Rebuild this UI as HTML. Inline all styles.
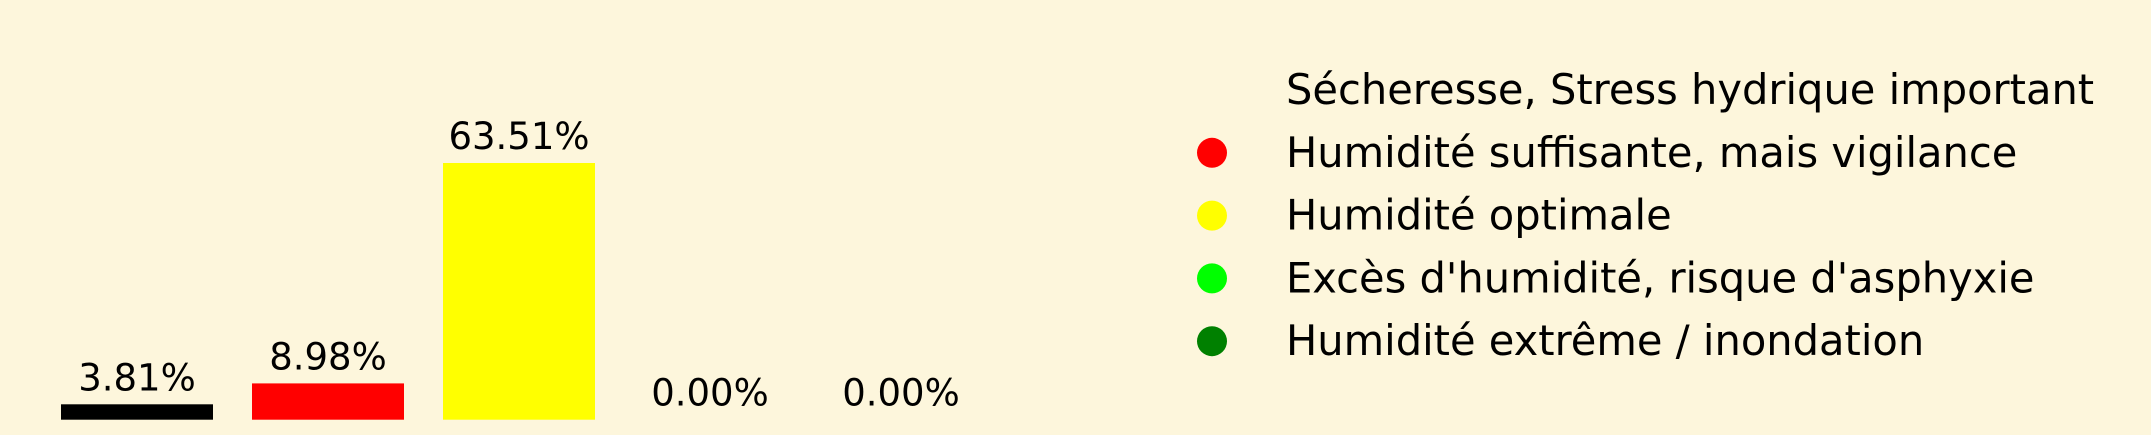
<!DOCTYPE html>
<html><head><meta charset="utf-8"><style>
html,body{margin:0;padding:0;background:#fdf6dc;}
svg{display:block;font-family:"DejaVu Sans","Liberation Sans",sans-serif;}
</style></head><body>
<svg id="chart" width="2151" height="435" viewBox="0 0 2151 435" xmlns="http://www.w3.org/2000/svg">
<rect x="0" y="0" width="2151" height="435" fill="#fdf6dc"/>
<g id="bars"></g>
<g id="legend"></g>
</svg>
<script>
const categories = ["Sécheresse, Stress hydrique important","Humidité suffisante, mais vigilance","Humidité optimale","Excès d'humidité, risque d'asphyxie","Humidité extrême / inondation"];
const values = [3.81, 8.98, 63.51, 0.00, 0.00];
const labels = ["3.81%","8.98%","63.51%","0.00%","0.00%"];
const colors = ["#000000","#ff0000","#ffff00","#00ff00","#008000"];
const legendMarkerColors = ["none","#ff0000","#ffff00","#00ff00","#008000"];

const NS="http://www.w3.org/2000/svg";
const baseY=419.7, pxPerUnit=256.7/63.51;
function xCenter(i){return 137+i*191;}
function yScale(v){return baseY - v*pxPerUnit;}
const bw=152;
const gb=document.getElementById('bars');
values.forEach((v,i)=>{
  const r=document.createElementNS(NS,'rect');
  r.setAttribute('x',xCenter(i)-bw/2);
  r.setAttribute('y',yScale(v));
  r.setAttribute('width',bw);
  r.setAttribute('height',baseY-yScale(v));
  r.setAttribute('fill',colors[i]);
  
  
  gb.appendChild(r);
  const t=document.createElementNS(NS,'text');
  t.setAttribute('x',xCenter(i));
  t.setAttribute('y',yScale(v)-14);
  t.setAttribute('text-anchor','middle');
  t.setAttribute('font-size','37');
  t.setAttribute('fill','#000');
  t.textContent=labels[i];
  
  
  gb.appendChild(t);
});
const gl=document.getElementById('legend');
categories.forEach((c,i)=>{
  const cy=90+i*62.8;
  const m=document.createElementNS(NS,'circle');
  m.setAttribute('cx',1212);m.setAttribute('cy',cy);m.setAttribute('r',15);
  m.setAttribute('fill',legendMarkerColors[i]);
  
  
  gl.appendChild(m);
  const t=document.createElementNS(NS,'text');
  t.setAttribute('x',1286);t.setAttribute('y',cy+14);
  t.setAttribute('font-size','41.6');t.setAttribute('fill','#000');
  t.textContent=c;
  
  
  gl.appendChild(t);
});
</script>
</body></html>
